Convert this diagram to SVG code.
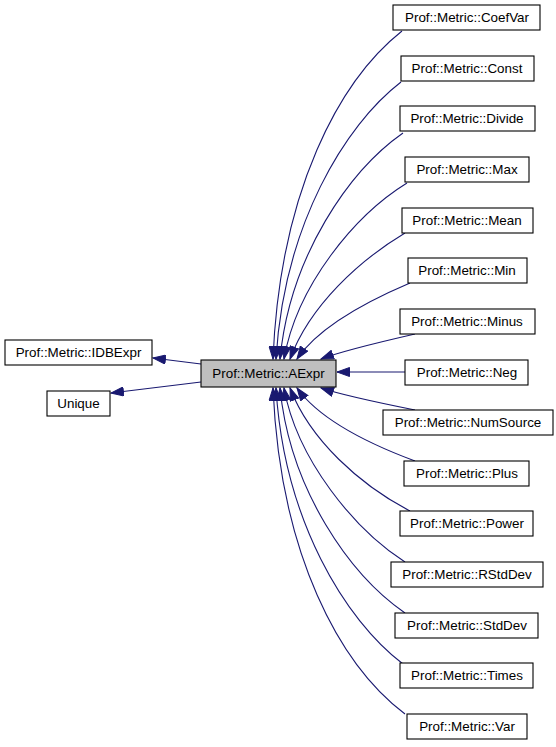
<svg xmlns="http://www.w3.org/2000/svg" width="556" height="747" viewBox="0 0 556 747">
<style>
.n rect{fill:#fff;stroke:#000;stroke-width:1.1}
.n text{font-family:"Liberation Sans",Arial,Helvetica,sans-serif;font-size:13.4px;text-anchor:middle;fill:#000}
#aexpr rect{fill:#bfbfbf}
.e path{fill:none;stroke:#191970;stroke-width:1.1;marker-end:url(#ah)}
</style>
<defs>
<marker id="ah" markerUnits="userSpaceOnUse" markerWidth="14" markerHeight="10" refX="13" refY="5" orient="auto">
<path d="M0.5,0.5 L13,5 L0.5,9.5 z" fill="#191970" stroke="#191970" stroke-width="1"/>
</marker>
</defs>
<rect width="556" height="747" fill="#fff"/>
<g id="edges" class="e">
<path d="M402,31 C340,80 280,190 273,359"/>
<path d="M401,82 C345,125 284,225 276,359"/>
<path d="M403,133 C350,170 290,255 280,359"/>
<path d="M407,183 C355,215 297,285 284,359"/>
<path d="M405,233 C360,260 310,305 290,359"/>
<path d="M410,283 C370,300 320,325 297,359"/>
<path d="M415,334 C380,342 345,350 321,359"/>
<path d="M405,372 L337,372"/>
<path d="M415,410 C380,403 345,396 321,388"/>
<path d="M415,461 C372,445 320,420 297,388"/>
<path d="M410,511 C360,485 310,440 290,388"/>
<path d="M405,562 C355,530 297,460 284,388"/>
<path d="M405,613 C350,575 290,490 280,388"/>
<path d="M403,664 C345,620 284,520 276,388"/>
<path d="M405,714 C340,665 280,555 273,388"/>
<path d="M201,364 L153,358"/>
<path d="M201,382 L111,393"/>
</g>
<g id="idbexpr" class="n"><rect x="5" y="340" width="147" height="25"/><text x="78.5" y="357">Prof::Metric::IDBExpr</text></g>
<g id="unique" class="n"><rect x="47" y="391" width="63" height="25"/><text x="78.5" y="408">Unique</text></g>
<g id="aexpr" class="n"><rect x="201" y="360" width="135" height="27"/><text x="268.5" y="378">Prof::Metric::AExpr</text></g>
<g id="coefvar" class="n"><rect x="393" y="5" width="147" height="25"/><text x="467" y="22">Prof::Metric::CoefVar</text></g>
<g id="const" class="n"><rect x="401" y="56" width="133" height="25"/><text x="467" y="73">Prof::Metric::Const</text></g>
<g id="divide" class="n"><rect x="400" y="106" width="135" height="25"/><text x="467" y="123">Prof::Metric::Divide</text></g>
<g id="max" class="n"><rect x="405" y="157" width="124" height="25"/><text x="467" y="174">Prof::Metric::Max</text></g>
<g id="mean" class="n"><rect x="402" y="208" width="131" height="25"/><text x="467" y="225">Prof::Metric::Mean</text></g>
<g id="min" class="n"><rect x="408" y="258" width="119" height="25"/><text x="467" y="275">Prof::Metric::Min</text></g>
<g id="minus" class="n"><rect x="400" y="309" width="135" height="25"/><text x="467" y="326">Prof::Metric::Minus</text></g>
<g id="neg" class="n"><rect x="405" y="360" width="123" height="25"/><text x="467" y="377">Prof::Metric::Neg</text></g>
<g id="numsource" class="n"><rect x="383" y="410" width="170" height="25"/><text x="468" y="427">Prof::Metric::NumSource</text></g>
<g id="plus" class="n"><rect x="404" y="461" width="125" height="25"/><text x="467" y="478">Prof::Metric::Plus</text></g>
<g id="power" class="n"><rect x="400" y="511" width="133" height="25"/><text x="467" y="528">Prof::Metric::Power</text></g>
<g id="rstddev" class="n"><rect x="391" y="562" width="152" height="25"/><text x="467" y="579">Prof::Metric::RStdDev</text></g>
<g id="stddev" class="n"><rect x="395" y="613" width="143" height="25"/><text x="467" y="630">Prof::Metric::StdDev</text></g>
<g id="times" class="n"><rect x="400" y="663" width="133" height="25"/><text x="467" y="680">Prof::Metric::Times</text></g>
<g id="var" class="n"><rect x="407" y="714" width="120" height="25"/><text x="467" y="731">Prof::Metric::Var</text></g>
</svg>
